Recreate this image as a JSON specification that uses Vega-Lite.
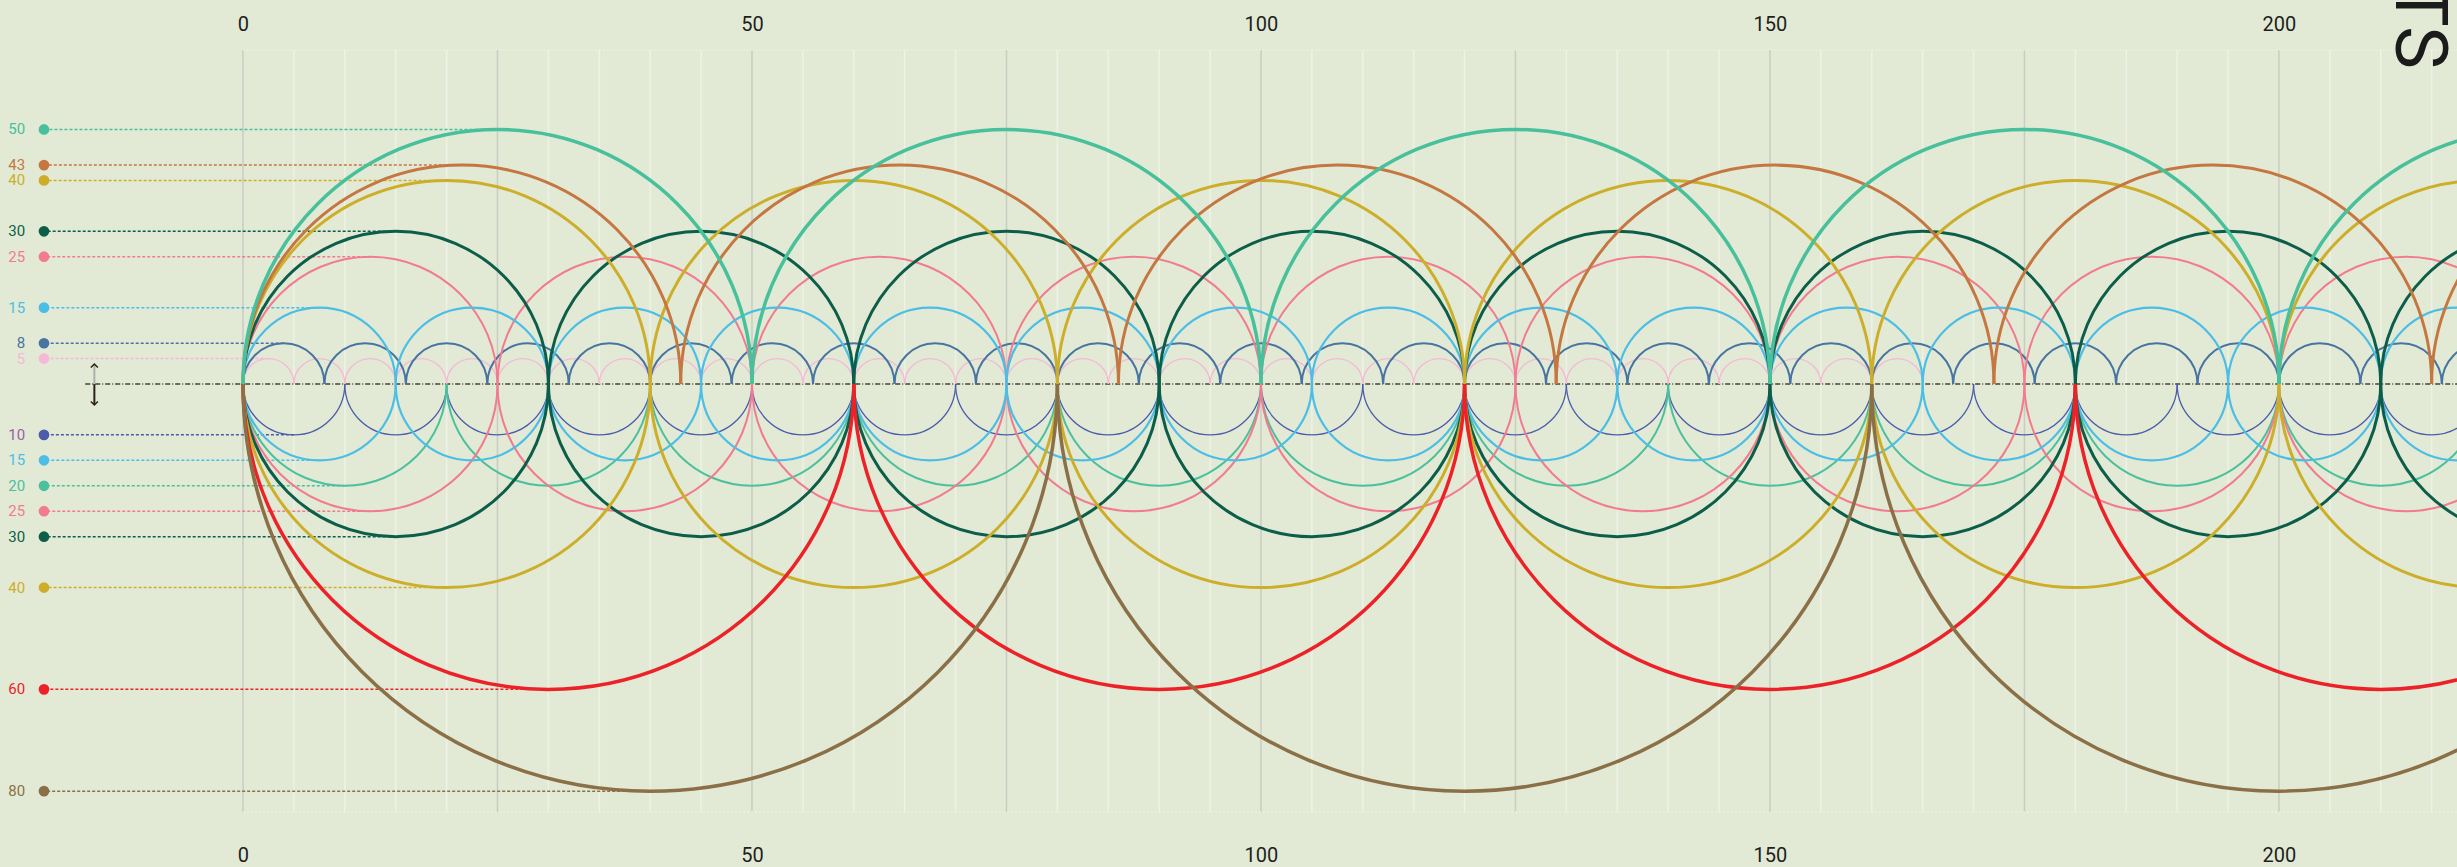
{
  "$schema": "https://vega.github.io/schema/vega-lite/v6.json",
  "width": 2457,
  "height": 867,
  "autosize": "none",
  "padding": 0,
  "background": "#e2ead5",
  "config": {"view": {"stroke": null}, "font": "Roboto"},
  "datasets": {
    "grid": [
      {"x":0,"k":"major"},{"x":5,"k":"minor"},{"x":10,"k":"minor"},{"x":15,"k":"minor"},{"x":20,"k":"minor"},
      {"x":25,"k":"major"},{"x":30,"k":"minor"},{"x":35,"k":"minor"},{"x":40,"k":"minor"},{"x":45,"k":"minor"},
      {"x":50,"k":"major"},{"x":55,"k":"minor"},{"x":60,"k":"minor"},{"x":65,"k":"minor"},{"x":70,"k":"minor"},
      {"x":75,"k":"major"},{"x":80,"k":"minor"},{"x":85,"k":"minor"},{"x":90,"k":"minor"},{"x":95,"k":"minor"},
      {"x":100,"k":"major"},{"x":105,"k":"minor"},{"x":110,"k":"minor"},{"x":115,"k":"minor"},{"x":120,"k":"minor"},
      {"x":125,"k":"major"},{"x":130,"k":"minor"},{"x":135,"k":"minor"},{"x":140,"k":"minor"},{"x":145,"k":"minor"},
      {"x":150,"k":"major"},{"x":155,"k":"minor"},{"x":160,"k":"minor"},{"x":165,"k":"minor"},{"x":170,"k":"minor"},
      {"x":175,"k":"major"},{"x":180,"k":"minor"},{"x":185,"k":"minor"},{"x":190,"k":"minor"},{"x":195,"k":"minor"},
      {"x":200,"k":"major"},{"x":205,"k":"minor"},{"x":210,"k":"minor"},{"x":215,"k":"minor"}
    ],
    "labels": [
      {"s":"u50","t":"50","y":25,"x1":25},
      {"s":"u43","t":"43","y":21.5,"x1":21.5},
      {"s":"u40","t":"40","y":20,"x1":20},
      {"s":"u30","t":"30","y":15,"x1":15},
      {"s":"u25","t":"25","y":12.5,"x1":12.5},
      {"s":"u15","t":"15","y":7.5,"x1":7.5},
      {"s":"u8","t":"8","y":4,"x1":4},
      {"s":"u5","t":"5","y":2.5,"x1":2.5},
      {"s":"l10","t":"10","y":-5,"x1":5},
      {"s":"l15","t":"15","y":-7.5,"x1":7.5},
      {"s":"l20","t":"20","y":-10,"x1":10},
      {"s":"l25","t":"25","y":-12.5,"x1":12.5},
      {"s":"l30","t":"30","y":-15,"x1":15},
      {"s":"l40","t":"40","y":-20,"x1":20},
      {"s":"l60","t":"60","y":-30,"x1":30},
      {"s":"l80","t":"80","y":-40,"x1":40}
    ],
    "arcs": [
      {"s":"u5","side":"up","d":5,"c":2.5},{"s":"u5","side":"up","d":5,"c":7.5},{"s":"u5","side":"up","d":5,"c":12.5},{"s":"u5","side":"up","d":5,"c":17.5},{"s":"u5","side":"up","d":5,"c":22.5},{"s":"u5","side":"up","d":5,"c":27.5},{"s":"u5","side":"up","d":5,"c":32.5},{"s":"u5","side":"up","d":5,"c":37.5},{"s":"u5","side":"up","d":5,"c":42.5},{"s":"u5","side":"up","d":5,"c":47.5},{"s":"u5","side":"up","d":5,"c":52.5},{"s":"u5","side":"up","d":5,"c":57.5},{"s":"u5","side":"up","d":5,"c":62.5},{"s":"u5","side":"up","d":5,"c":67.5},{"s":"u5","side":"up","d":5,"c":72.5},{"s":"u5","side":"up","d":5,"c":77.5},{"s":"u5","side":"up","d":5,"c":82.5},{"s":"u5","side":"up","d":5,"c":87.5},{"s":"u5","side":"up","d":5,"c":92.5},{"s":"u5","side":"up","d":5,"c":97.5},{"s":"u5","side":"up","d":5,"c":102.5},{"s":"u5","side":"up","d":5,"c":107.5},{"s":"u5","side":"up","d":5,"c":112.5},{"s":"u5","side":"up","d":5,"c":117.5},{"s":"u5","side":"up","d":5,"c":122.5},{"s":"u5","side":"up","d":5,"c":127.5},{"s":"u5","side":"up","d":5,"c":132.5},{"s":"u5","side":"up","d":5,"c":137.5},{"s":"u5","side":"up","d":5,"c":142.5},{"s":"u5","side":"up","d":5,"c":147.5},{"s":"u5","side":"up","d":5,"c":152.5},{"s":"u5","side":"up","d":5,"c":157.5},{"s":"u5","side":"up","d":5,"c":162.5},
      {"s":"l10","side":"dn","d":10,"c":5},{"s":"l10","side":"dn","d":10,"c":15},{"s":"l10","side":"dn","d":10,"c":25},{"s":"l10","side":"dn","d":10,"c":35},{"s":"l10","side":"dn","d":10,"c":45},{"s":"l10","side":"dn","d":10,"c":55},{"s":"l10","side":"dn","d":10,"c":65},{"s":"l10","side":"dn","d":10,"c":75},{"s":"l10","side":"dn","d":10,"c":85},{"s":"l10","side":"dn","d":10,"c":95},{"s":"l10","side":"dn","d":10,"c":105},{"s":"l10","side":"dn","d":10,"c":115},{"s":"l10","side":"dn","d":10,"c":125},{"s":"l10","side":"dn","d":10,"c":135},{"s":"l10","side":"dn","d":10,"c":145},{"s":"l10","side":"dn","d":10,"c":155},{"s":"l10","side":"dn","d":10,"c":165},{"s":"l10","side":"dn","d":10,"c":175},{"s":"l10","side":"dn","d":10,"c":185},{"s":"l10","side":"dn","d":10,"c":195},{"s":"l10","side":"dn","d":10,"c":205},{"s":"l10","side":"dn","d":10,"c":215},
      {"s":"u8","side":"up","d":8,"c":4},{"s":"u8","side":"up","d":8,"c":12},{"s":"u8","side":"up","d":8,"c":20},{"s":"u8","side":"up","d":8,"c":28},{"s":"u8","side":"up","d":8,"c":36},{"s":"u8","side":"up","d":8,"c":44},{"s":"u8","side":"up","d":8,"c":52},{"s":"u8","side":"up","d":8,"c":60},{"s":"u8","side":"up","d":8,"c":68},{"s":"u8","side":"up","d":8,"c":76},{"s":"u8","side":"up","d":8,"c":84},{"s":"u8","side":"up","d":8,"c":92},{"s":"u8","side":"up","d":8,"c":100},{"s":"u8","side":"up","d":8,"c":108},{"s":"u8","side":"up","d":8,"c":116},{"s":"u8","side":"up","d":8,"c":124},{"s":"u8","side":"up","d":8,"c":132},{"s":"u8","side":"up","d":8,"c":140},{"s":"u8","side":"up","d":8,"c":148},{"s":"u8","side":"up","d":8,"c":156},{"s":"u8","side":"up","d":8,"c":164},{"s":"u8","side":"up","d":8,"c":172},{"s":"u8","side":"up","d":8,"c":180},{"s":"u8","side":"up","d":8,"c":188},{"s":"u8","side":"up","d":8,"c":196},{"s":"u8","side":"up","d":8,"c":204},{"s":"u8","side":"up","d":8,"c":212},{"s":"u8","side":"up","d":8,"c":220},
      {"s":"u15","side":"up","d":15,"c":7.5},{"s":"u15","side":"up","d":15,"c":22.5},{"s":"u15","side":"up","d":15,"c":37.5},{"s":"u15","side":"up","d":15,"c":52.5},{"s":"u15","side":"up","d":15,"c":67.5},{"s":"u15","side":"up","d":15,"c":82.5},{"s":"u15","side":"up","d":15,"c":97.5},{"s":"u15","side":"up","d":15,"c":112.5},{"s":"u15","side":"up","d":15,"c":127.5},{"s":"u15","side":"up","d":15,"c":142.5},{"s":"u15","side":"up","d":15,"c":157.5},{"s":"u15","side":"up","d":15,"c":172.5},{"s":"u15","side":"up","d":15,"c":187.5},{"s":"u15","side":"up","d":15,"c":202.5},{"s":"u15","side":"up","d":15,"c":217.5},
      {"s":"l15","side":"dn","d":15,"c":7.5},{"s":"l15","side":"dn","d":15,"c":22.5},{"s":"l15","side":"dn","d":15,"c":37.5},{"s":"l15","side":"dn","d":15,"c":52.5},{"s":"l15","side":"dn","d":15,"c":67.5},{"s":"l15","side":"dn","d":15,"c":82.5},{"s":"l15","side":"dn","d":15,"c":97.5},{"s":"l15","side":"dn","d":15,"c":112.5},{"s":"l15","side":"dn","d":15,"c":127.5},{"s":"l15","side":"dn","d":15,"c":142.5},{"s":"l15","side":"dn","d":15,"c":157.5},{"s":"l15","side":"dn","d":15,"c":172.5},{"s":"l15","side":"dn","d":15,"c":187.5},{"s":"l15","side":"dn","d":15,"c":202.5},{"s":"l15","side":"dn","d":15,"c":217.5},
      {"s":"l20","side":"dn","d":20,"c":10},{"s":"l20","side":"dn","d":20,"c":30},{"s":"l20","side":"dn","d":20,"c":50},{"s":"l20","side":"dn","d":20,"c":70},{"s":"l20","side":"dn","d":20,"c":90},{"s":"l20","side":"dn","d":20,"c":110},{"s":"l20","side":"dn","d":20,"c":130},{"s":"l20","side":"dn","d":20,"c":150},{"s":"l20","side":"dn","d":20,"c":170},{"s":"l20","side":"dn","d":20,"c":190},{"s":"l20","side":"dn","d":20,"c":210},
      {"s":"u25","side":"up","d":25,"c":12.5},{"s":"u25","side":"up","d":25,"c":37.5},{"s":"u25","side":"up","d":25,"c":62.5},{"s":"u25","side":"up","d":25,"c":87.5},{"s":"u25","side":"up","d":25,"c":112.5},{"s":"u25","side":"up","d":25,"c":137.5},{"s":"u25","side":"up","d":25,"c":162.5},{"s":"u25","side":"up","d":25,"c":187.5},{"s":"u25","side":"up","d":25,"c":212.5},
      {"s":"l25","side":"dn","d":25,"c":12.5},{"s":"l25","side":"dn","d":25,"c":37.5},{"s":"l25","side":"dn","d":25,"c":62.5},{"s":"l25","side":"dn","d":25,"c":87.5},{"s":"l25","side":"dn","d":25,"c":112.5},{"s":"l25","side":"dn","d":25,"c":137.5},{"s":"l25","side":"dn","d":25,"c":162.5},{"s":"l25","side":"dn","d":25,"c":187.5},{"s":"l25","side":"dn","d":25,"c":212.5},
      {"s":"u30","side":"up","d":30,"c":15},{"s":"u30","side":"up","d":30,"c":45},{"s":"u30","side":"up","d":30,"c":75},{"s":"u30","side":"up","d":30,"c":105},{"s":"u30","side":"up","d":30,"c":135},{"s":"u30","side":"up","d":30,"c":165},{"s":"u30","side":"up","d":30,"c":195},{"s":"u30","side":"up","d":30,"c":225},
      {"s":"l30","side":"dn","d":30,"c":15},{"s":"l30","side":"dn","d":30,"c":45},{"s":"l30","side":"dn","d":30,"c":75},{"s":"l30","side":"dn","d":30,"c":105},{"s":"l30","side":"dn","d":30,"c":135},{"s":"l30","side":"dn","d":30,"c":165},{"s":"l30","side":"dn","d":30,"c":195},{"s":"l30","side":"dn","d":30,"c":225},
      {"s":"u40","side":"up","d":40,"c":20},{"s":"u40","side":"up","d":40,"c":60},{"s":"u40","side":"up","d":40,"c":100},{"s":"u40","side":"up","d":40,"c":140},{"s":"u40","side":"up","d":40,"c":180},{"s":"u40","side":"up","d":40,"c":220},
      {"s":"l40","side":"dn","d":40,"c":20},{"s":"l40","side":"dn","d":40,"c":60},{"s":"l40","side":"dn","d":40,"c":100},{"s":"l40","side":"dn","d":40,"c":140},{"s":"l40","side":"dn","d":40,"c":180},{"s":"l40","side":"dn","d":40,"c":220},
      {"s":"u43","side":"up","d":43,"c":21.5},{"s":"u43","side":"up","d":43,"c":64.5},{"s":"u43","side":"up","d":43,"c":107.5},{"s":"u43","side":"up","d":43,"c":150.5},{"s":"u43","side":"up","d":43,"c":193.5},{"s":"u43","side":"up","d":43,"c":236.5},
      {"s":"u50","side":"up","d":50,"c":25},{"s":"u50","side":"up","d":50,"c":75},{"s":"u50","side":"up","d":50,"c":125},{"s":"u50","side":"up","d":50,"c":175},{"s":"u50","side":"up","d":50,"c":225},
      {"s":"l60","side":"dn","d":60,"c":30},{"s":"l60","side":"dn","d":60,"c":90},{"s":"l60","side":"dn","d":60,"c":150},{"s":"l60","side":"dn","d":60,"c":210},
      {"s":"l80","side":"dn","d":80,"c":40},{"s":"l80","side":"dn","d":80,"c":120},{"s":"l80","side":"dn","d":80,"c":200}
    ]
  },
  "resolve": {"axis": {"x": "independent"}},
  "layer": [
    {
      "data": {"name": "grid"},
      "mark": {"type": "rule", "strokeWidth": 1.5},
      "encoding": {
        "x": {"field": "x", "type": "quantitative",
              "scale": {"domain": [-23.87, 217.49], "nice": false, "zero": false},
              "axis": {"orient": "top", "values": [0, 50, 100, 150, 200], "grid": false, "ticks": false, "tickSize": 0, "domain": false, "labelPadding": 0, "offset": -34, "labelFontSize": 20, "labelFont": "Roboto", "labelColor": "#1e1e1e", "title": null}},
        "y": {"datum": 32.81, "type": "quantitative", "scale": {"domain": [-47.45, 37.72], "nice": false, "zero": false}, "axis": null},
        "y2": {"datum": -42.04},
        "color": {"condition": {"test": "datum.k === 'major'", "value": "#c9ccc3"}, "value": "#eef2e6"}
      }
    },
    {
      "data": {"values": [{"a": 0, "b": 217.49}]},
      "mark": {"type": "rule", "strokeWidth": 1, "strokeDash": [2, 2], "color": "#eef2e8"},
      "encoding": {
        "x": {"field": "a", "type": "quantitative",
              "axis": {"orient": "bottom", "values": [0, 50, 100, 150, 200], "grid": false, "ticks": false, "tickSize": 0, "domain": false, "labelPadding": 0, "offset": -22, "labelFontSize": 20, "labelFont": "Roboto", "labelColor": "#1e1e1e", "title": null}},
        "x2": {"field": "b"},
        "y": {"datum": 32.81, "type": "quantitative", "axis": null}
      }
    },
    {
      "data": {"values": [{"a": 0, "b": 217.49}]},
      "mark": {"type": "rule", "strokeWidth": 1, "strokeDash": [2, 2], "color": "#eef2e8"},
      "encoding": {
        "x": {"field": "a", "type": "quantitative", "axis": null},
        "x2": {"field": "b"},
        "y": {"datum": -42.04, "type": "quantitative", "axis": null}
      }
    },
    {
      "data": {"name": "labels"},
      "mark": {"type": "rule", "strokeWidth": 1.5, "strokeDash": [3, 2]},
      "encoding": {
        "x": {"field": "x1", "type": "quantitative", "axis": null},
        "x2": {"datum": -19.55},
        "y": {"field": "y", "type": "quantitative", "axis": null},
        "color": {"field": "s", "type": "nominal", "legend": null,
                  "scale": {"domain": ["u50","u43","u40","u30","u25","u15","u8","u5","l10","l15","l20","l25","l30","l40","l60","l80"],
                            "range": ["#47c09b","#c57742","#cdae2b","#0c5d49","#f27b8f","#4cbee6","#4774a1","#f5b8d6","#4b5cab","#4cbee6","#4cc09c","#f27b8f","#0c5d49","#cdae2b","#ed2228","#8b7047"]}}
      }
    },
    {
      "data": {"values": [{"a": -15.5, "b": 217.49}]},
      "mark": {"type": "rule", "strokeWidth": 2, "strokeDash": [5, 2, 1, 2], "color": "#6f6b60"},
      "encoding": {
        "x": {"field": "a", "type": "quantitative", "axis": null},
        "x2": {"field": "b"},
        "y": {"datum": 0, "type": "quantitative", "axis": null}
      }
    },
    {
      "data": {"name": "arcs"},
      "transform": [{"filter": "datum.s === 'u5' || datum.s === 'l10'"}],
      "mark": {"type": "point", "filled": false, "opacity": 1, "strokeWidth": 1.3},
      "encoding": {
        "x": {"field": "c", "type": "quantitative", "axis": null},
        "y": {"datum": 0, "type": "quantitative", "axis": null},
        "size": {"field": "d", "type": "quantitative", "legend": null, "scale": {"type": "pow", "exponent": 2, "domain": [0, 80], "range": [0, 663247]}},
        "shape": {"field": "side", "type": "nominal", "legend": null, "scale": {"domain": ["up", "dn"], "range": ["M -1 0 A 1 1 0 0 1 1 0", "M -1 0 A 1 1 0 0 0 1 0"]}},
        "color": {"field": "s", "type": "nominal", "legend": null}
      }
    },
    {
      "data": {"name": "arcs"},
      "transform": [{"filter": "datum.s === 'u8' || datum.s === 'l20' || datum.s === 'u25' || datum.s === 'l25'"}],
      "mark": {"type": "point", "filled": false, "opacity": 1, "strokeWidth": 2},
      "encoding": {
        "x": {"field": "c", "type": "quantitative", "axis": null},
        "y": {"datum": 0, "type": "quantitative", "axis": null},
        "size": {"field": "d", "type": "quantitative", "legend": null},
        "shape": {"field": "side", "type": "nominal", "legend": null},
        "color": {"field": "s", "type": "nominal", "legend": null}
      }
    },
    {
      "data": {"name": "arcs"},
      "transform": [{"filter": "datum.s === 'u15' || datum.s === 'l15'"}],
      "mark": {"type": "point", "filled": false, "opacity": 1, "strokeWidth": 2.2},
      "encoding": {
        "x": {"field": "c", "type": "quantitative", "axis": null},
        "y": {"datum": 0, "type": "quantitative", "axis": null},
        "size": {"field": "d", "type": "quantitative", "legend": null},
        "shape": {"field": "side", "type": "nominal", "legend": null},
        "color": {"field": "s", "type": "nominal", "legend": null}
      }
    },
    {
      "data": {"name": "arcs"},
      "transform": [{"filter": "datum.s === 'u30' || datum.s === 'l30' || datum.s === 'u40' || datum.s === 'l40' || datum.s === 'u43'"}],
      "mark": {"type": "point", "filled": false, "opacity": 1, "strokeWidth": 3},
      "encoding": {
        "x": {"field": "c", "type": "quantitative", "axis": null},
        "y": {"datum": 0, "type": "quantitative", "axis": null},
        "size": {"field": "d", "type": "quantitative", "legend": null},
        "shape": {"field": "side", "type": "nominal", "legend": null},
        "color": {"field": "s", "type": "nominal", "legend": null}
      }
    },
    {
      "data": {"name": "arcs"},
      "transform": [{"filter": "datum.s === 'u50' || datum.s === 'l60' || datum.s === 'l80'"}],
      "mark": {"type": "point", "filled": false, "opacity": 1, "strokeWidth": 3.5},
      "encoding": {
        "x": {"field": "c", "type": "quantitative", "axis": null},
        "y": {"datum": 0, "type": "quantitative", "axis": null},
        "size": {"field": "d", "type": "quantitative", "legend": null},
        "shape": {"field": "side", "type": "nominal", "legend": null},
        "color": {"field": "s", "type": "nominal", "legend": null}
      }
    },
    {
      "data": {"name": "labels"},
      "mark": {"type": "point", "filled": true, "opacity": 1, "size": 115, "shape": "circle"},
      "encoding": {
        "x": {"datum": -19.55, "type": "quantitative", "axis": null},
        "y": {"field": "y", "type": "quantitative", "axis": null},
        "color": {"field": "s", "type": "nominal", "legend": null}
      }
    },
    {
      "data": {"name": "labels"},
      "mark": {"type": "text", "align": "right", "baseline": "middle", "fontSize": 15, "font": "Roboto"},
      "encoding": {
        "x": {"datum": -21.4, "type": "quantitative", "axis": null},
        "y": {"field": "y", "type": "quantitative", "axis": null},
        "text": {"field": "t", "type": "nominal"},
        "fill": {"field": "s", "type": "nominal", "legend": null,
                 "scale": {"domain": ["u50","u43","u40","u30","u25","u15","u8","u5","l10","l15","l20","l25","l30","l40","l60","l80"],
                           "range": ["#47c09b","#c57742","#cdae2b","#0c5d49","#f27b8f","#4cbee6","#4774a1","#f5b8d6","#9a5ea7","#4cbee6","#4cc09c","#f27b8f","#0c5d49","#cdae2b","#ed2228","#8b7047"]}}
      }
    },
    {
      "data": {"values": [{"x": -14.6, "a": 0, "b": 1.9}]},
      "mark": {"type": "rule", "strokeWidth": 2, "color": "#b0b0a8"},
      "encoding": {
        "x": {"field": "x", "type": "quantitative", "axis": null},
        "y": {"field": "a", "type": "quantitative", "axis": null},
        "y2": {"field": "b"}
      }
    },
    {
      "data": {"values": [{"x": -14.6, "a": 0, "b": -2.0}]},
      "mark": {"type": "rule", "strokeWidth": 2, "color": "#2b211b"},
      "encoding": {
        "x": {"field": "x", "type": "quantitative", "axis": null},
        "y": {"field": "a", "type": "quantitative", "axis": null},
        "y2": {"field": "b"}
      }
    },
    {
      "data": {"values": [{"x": -14.6, "y": 1.96}]},
      "mark": {"type": "point", "filled": false, "opacity": 1, "strokeWidth": 1.5, "color": "#2b211b", "size": 49, "shape": "M -1 1 L 0 0 L 1 1"},
      "encoding": {
        "x": {"field": "x", "type": "quantitative", "axis": null},
        "y": {"field": "y", "type": "quantitative", "axis": null}
      }
    },
    {
      "data": {"values": [{"x": -14.6, "y": -2.06}]},
      "mark": {"type": "point", "filled": false, "opacity": 1, "strokeWidth": 1.5, "color": "#2b211b", "size": 49, "shape": "M -1 -1 L 0 0 L 1 -1"},
      "encoding": {
        "x": {"field": "x", "type": "quantitative", "axis": null},
        "y": {"field": "y", "type": "quantitative", "axis": null}
      }
    },
    {
      "data": {"values": [{"t": "SEMICIRCLE UNITS", "x": 211.5, "y": 30.94}]},
      "mark": {"type": "text", "angle": 90, "align": "right", "baseline": "alphabetic", "fontSize": 72, "font": "Roboto", "color": "#1b1b1b"},
      "encoding": {
        "x": {"field": "x", "type": "quantitative", "axis": null},
        "y": {"field": "y", "type": "quantitative", "axis": null},
        "text": {"field": "t", "type": "nominal"}
      }
    }
  ]
}
